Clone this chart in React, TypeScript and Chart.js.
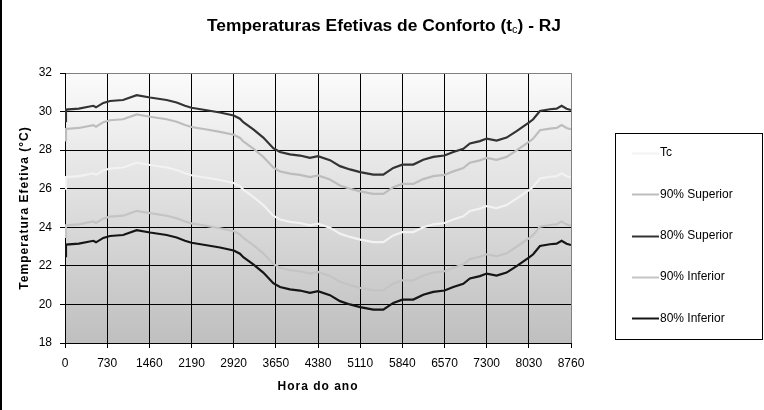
import React, { useEffect, useRef } from "react";
import { Chart, registerables } from "chart.js";

Chart.register(...registerables);

const TITLE_MAIN = "Temperaturas Efetivas de Conforto (t";
const TITLE_SUB = "c";
const TITLE_END = ") - RJ";
const X_TITLE = "Hora do ano";
const Y_TITLE = "Temperatura Efetiva (°C)";

const SERIES_NAMES = ["Tc", "90% Superior", "80% Superior", "90% Inferior", "80% Inferior"];
const SERIES_COLORS = ["#f2f2f2", "#bdbdbd", "#333333", "#c4c4c4", "#151515"];

const HOURS = [
  0, 17, 240, 490, 537, 663, 779, 1005, 1241, 1471, 1760, 1933, 2077, 2190, 2452, 2683,
  2920, 3029, 3087, 3260, 3433, 3606, 3722, 3895, 4068, 4241, 4380, 4587, 4760, 4933,
  5110, 5337, 5510, 5683, 5840, 6029, 6202, 6375, 6570, 6722, 6895, 7010, 7183, 7300,
  7472, 7645, 7818, 8030, 8106, 8222, 8395, 8511, 8597, 8684, 8760,
];

const TC = [
  26.0, 26.6, 26.65, 26.8, 26.72, 26.95, 27.05, 27.1, 27.35, 27.23, 27.1, 26.97, 26.8, 26.7,
  26.57, 26.45, 26.3, 26.13, 25.95, 25.58, 25.15, 24.6, 24.4, 24.28, 24.22, 24.1, 24.19,
  23.98, 23.67, 23.5, 23.36, 23.23, 23.23, 23.58, 23.75, 23.75, 24.0, 24.15, 24.22, 24.4,
  24.57, 24.85, 24.97, 25.1, 25.0, 25.15, 25.49, 25.93, 26.1, 26.53, 26.62, 26.65, 26.8,
  26.65, 26.58,
];

const SUP90 = [
  28.5, 29.1, 29.15, 29.3, 29.22, 29.45, 29.55, 29.6, 29.85, 29.73, 29.6, 29.47, 29.3, 29.2,
  29.07, 28.95, 28.8, 28.63, 28.45, 28.08, 27.65, 27.1, 26.9, 26.78, 26.72, 26.6, 26.69,
  26.48, 26.17, 26.0, 25.86, 25.73, 25.73, 26.08, 26.25, 26.25, 26.5, 26.65, 26.72, 26.9,
  27.07, 27.35, 27.47, 27.6, 27.5, 27.65, 27.99, 28.43, 28.6, 29.03, 29.12, 29.15, 29.3,
  29.15, 29.08,
];

const SUP80 = [
  29.5, 30.1, 30.15, 30.3, 30.22, 30.45, 30.55, 30.6, 30.85, 30.73, 30.6, 30.47, 30.3, 30.2,
  30.07, 29.95, 29.8, 29.63, 29.45, 29.08, 28.65, 28.1, 27.9, 27.78, 27.72, 27.6, 27.69,
  27.48, 27.17, 27.0, 26.86, 26.73, 26.73, 27.08, 27.25, 27.25, 27.5, 27.65, 27.72, 27.9,
  28.07, 28.35, 28.47, 28.6, 28.5, 28.65, 28.99, 29.43, 29.6, 30.03, 30.12, 30.15, 30.3,
  30.15, 30.08,
];

const INF90 = [
  23.5, 24.1, 24.15, 24.3, 24.22, 24.45, 24.55, 24.6, 24.85, 24.73, 24.6, 24.47, 24.3, 24.2,
  24.07, 23.95, 23.8, 23.63, 23.45, 23.08, 22.65, 22.1, 21.9, 21.78, 21.72, 21.6, 21.69,
  21.48, 21.17, 21.0, 20.86, 20.73, 20.73, 21.08, 21.25, 21.25, 21.5, 21.65, 21.72, 21.9,
  22.07, 22.35, 22.47, 22.6, 22.5, 22.65, 22.99, 23.43, 23.6, 24.03, 24.12, 24.15, 24.3,
  24.15, 24.08,
];

const INF80 = [
  22.5, 23.1, 23.15, 23.3, 23.22, 23.45, 23.55, 23.6, 23.85, 23.73, 23.6, 23.47, 23.3, 23.2,
  23.07, 22.95, 22.8, 22.63, 22.45, 22.08, 21.65, 21.1, 20.9, 20.78, 20.72, 20.6, 20.69,
  20.48, 20.17, 20.0, 19.86, 19.73, 19.73, 20.08, 20.25, 20.25, 20.5, 20.65, 20.72, 20.9,
  21.07, 21.35, 21.47, 21.6, 21.5, 21.65, 21.99, 22.43, 22.6, 23.03, 23.12, 23.15, 23.3,
  23.15, 23.08,
];

const X_MIN = 0;
const X_MAX = 8760;
const X_STEP = 730;
const Y_MIN = 18;
const Y_MAX = 32;
const Y_STEP = 2;

const FONT = '"Liberation Sans", Arial, sans-serif';

const decorPlugin = {
  id: "decor",
  beforeDraw(chart: any) {
    const { ctx, chartArea: a } = chart;
    ctx.save();
    const g = ctx.createLinearGradient(0, a.top, 0, a.bottom);
    g.addColorStop(0, "#fbfbfb");
    g.addColorStop(1, "#bfbfbf");
    ctx.fillStyle = g;
    ctx.fillRect(a.left, a.top, a.right - a.left, a.bottom - a.top);
    ctx.restore();
  },
  afterDraw(chart: any) {
    const { ctx, chartArea: a } = chart;
    ctx.save();
    // frame left edge
    ctx.fillStyle = "#000";
    ctx.fillRect(0, 0, 2, chart.height);

    // title with subscript
    const big = `bold 17.4px ${FONT}`;
    const small = `11px ${FONT}`;
    ctx.font = big;
    const w1 = ctx.measureText(TITLE_MAIN).width;
    const w3 = ctx.measureText(TITLE_END).width;
    ctx.font = small;
    const w2 = ctx.measureText(TITLE_SUB).width;
    let x = 384 - (w1 + w2 + w3) / 2;
    const base = 31;
    ctx.fillStyle = "#000";
    ctx.textBaseline = "alphabetic";
    ctx.textAlign = "left";
    ctx.font = big;
    ctx.fillText(TITLE_MAIN, x, base);
    x += w1;
    ctx.font = small;
    ctx.fillText(TITLE_SUB, x, base + 2);
    x += w2;
    ctx.font = big;
    ctx.fillText(TITLE_END, x, base);

    // axis titles
    ctx.font = `bold 12px ${FONT}`;
    (ctx as any).letterSpacing = "1px";
    ctx.textAlign = "center";
    ctx.textBaseline = "middle";
    ctx.fillText(X_TITLE, (a.left + a.right) / 2, 387);
    ctx.save();
    ctx.translate(25, (a.top + a.bottom) / 2);
    ctx.rotate(-Math.PI / 2);
    ctx.fillText(Y_TITLE, 0, 0);
    ctx.restore();
    (ctx as any).letterSpacing = "0px";

    // legend
    ctx.strokeStyle = "#000";
    ctx.lineWidth = 1;
    ctx.strokeRect(615.5, 133.5, 147, 206);
    ctx.font = `12px ${FONT}`;
    ctx.textAlign = "left";
    ctx.textBaseline = "middle";
    chart.data.datasets.forEach((ds: any, i: number) => {
      const y = 153 + i * 41.3;
      ctx.strokeStyle = ds.borderColor;
      ctx.lineWidth = 2;
      ctx.beginPath();
      ctx.moveTo(632, Math.round(y) + 0.5);
      ctx.lineTo(659, Math.round(y) + 0.5);
      ctx.stroke();
      ctx.fillStyle = "#000";
      ctx.fillText(ds.label, 660, y);
    });
    ctx.restore();
  },
};

export default function App() {
  const ref = useRef<HTMLCanvasElement | null>(null);

  useEffect(() => {
    if (!ref.current) return;
    const series = [TC, SUP90, SUP80, INF90, INF80];
    const chart = new Chart(ref.current, {
      type: "line",
      data: {
        datasets: series.map((vals, i) => ({
          label: SERIES_NAMES[i],
          data: HOURS.map((h, j) => ({ x: h, y: vals[j] })),
          borderColor: SERIES_COLORS[i],
          backgroundColor: SERIES_COLORS[i],
          borderWidth: 2.2,
          pointRadius: 0,
          tension: 0,
          fill: false,
        })),
      },
      options: {
        responsive: false,
        animation: false,
        events: [],
        layout: { padding: { top: 73, right: 193, bottom: 0, left: 0 } },
        plugins: {
          legend: { display: false },
          title: { display: false },
          tooltip: { enabled: false },
        },
        scales: {
          x: {
            type: "linear",
            min: X_MIN,
            max: X_MAX,
            afterFit: (s: any) => {
              s.height = 67;
            },
            ticks: {
              stepSize: X_STEP,
              autoSkip: false,
              maxRotation: 0,
              padding: 8,
              color: "#000",
              font: { family: FONT, size: 12 },
              callback: (v: any) => String(v),
            },
            grid: {
              color: (c: any) => (c.tick && c.tick.value === X_MAX ? "#808080" : "#000"),
              lineWidth: 1,
              tickLength: 5,
              tickColor: "#000",
            },
            border: { color: "#000", width: 1 },
          },
          y: {
            min: Y_MIN,
            max: Y_MAX,
            afterFit: (s: any) => {
              s.width = 65;
            },
            ticks: {
              stepSize: Y_STEP,
              padding: 8,
              color: "#000",
              font: { family: FONT, size: 12 },
              callback: (v: any) => String(v),
            },
            grid: {
              color: (c: any) => (c.tick && c.tick.value === Y_MAX ? "#808080" : "#000"),
              lineWidth: 1,
              tickLength: 5,
              tickColor: "#000",
            },
            border: { color: "#000", width: 1 },
          },
        },
      },
      plugins: [decorPlugin],
    });
    return () => chart.destroy();
  }, []);

  return (
    <div style={{ position: "fixed", left: 0, top: 0, width: 764, height: 410, background: "#fff" }}>
      <canvas ref={ref} width={764} height={410} style={{ display: "block" }} />
    </div>
  );
}
